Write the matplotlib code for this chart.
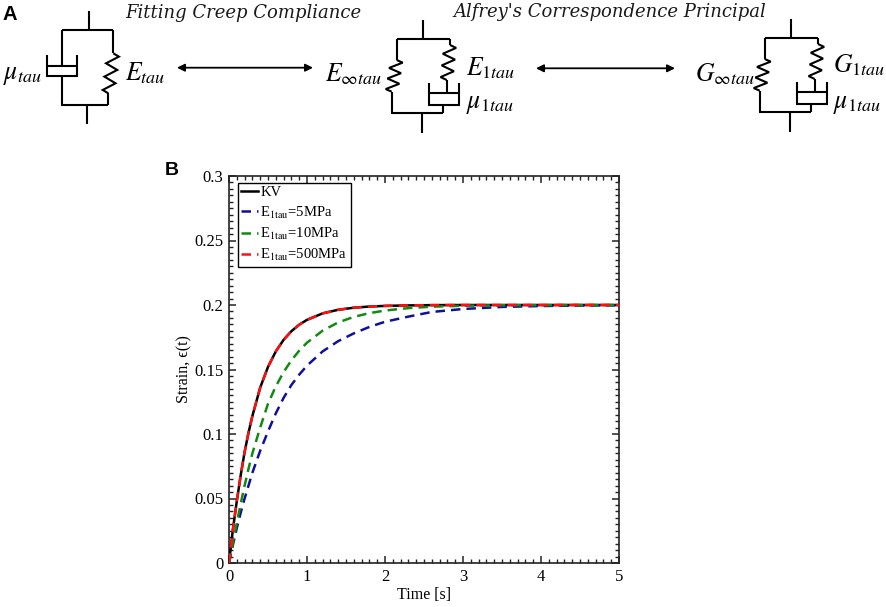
import matplotlib
matplotlib.use('Agg')
import matplotlib.pyplot as plt
from matplotlib.ticker import MultipleLocator, FixedLocator, FixedFormatter

plt.rcParams['font.family'] = ['Liberation Serif', 'DejaVu Serif']
plt.rcParams['mathtext.fontset'] = 'stix'

# ---------------- data ----------------
time_s = [0, 0.05, 0.1, 0.15, 0.2, 0.25, 0.3, 0.4, 0.5, 0.6, 0.7, 0.8, 0.9,
          1.0, 1.2, 1.4, 1.6, 1.8, 2.0, 2.3, 2.6, 3.0, 3.5, 4.0, 4.5, 5.0]
strain_kv = [0, 0.026, 0.048, 0.068, 0.086, 0.101, 0.114, 0.136, 0.152, 0.164,
             0.173, 0.1797, 0.1847, 0.1885, 0.1935, 0.1963, 0.1979, 0.1988,
             0.1993, 0.1997, 0.1999, 0.2, 0.2, 0.2, 0.2, 0.2]
strain_5mpa = [0, 0.014, 0.027, 0.039, 0.050, 0.060, 0.070, 0.087, 0.102, 0.116,
               0.128, 0.138, 0.146, 0.153, 0.164, 0.172, 0.178, 0.183, 0.187,
               0.191, 0.1946, 0.1969, 0.1985, 0.1992, 0.1996, 0.1998]
strain_10mpa = [0, 0.016, 0.031, 0.046, 0.060, 0.073, 0.085, 0.105, 0.1235,
                0.1369, 0.148, 0.1571, 0.1646, 0.1708, 0.1801, 0.1865, 0.1908,
                0.1937, 0.1957, 0.1976, 0.1987, 0.1994, 0.1998, 0.1999, 0.2, 0.2]
strain_500mpa = [0, 0.026, 0.048, 0.068, 0.086, 0.101, 0.114, 0.136, 0.152,
                 0.164, 0.173, 0.1797, 0.1847, 0.1885, 0.1935, 0.1963, 0.1979,
                 0.1988, 0.1993, 0.1997, 0.1999, 0.2, 0.2, 0.2, 0.2, 0.2]
series_labels = ['KV', r'E$_{\mathrm{1tau}}$=5MPa', r'E$_{\mathrm{1tau}}$=10MPa',
                 r'E$_{\mathrm{1tau}}$=500MPa']
x_ticks = [0, 1, 2, 3, 4, 5]
y_ticks = [0, 0.05, 0.1, 0.15, 0.2, 0.25, 0.3]
y_tick_labels = ['0', '0.05', '0.1', '0.15', '0.2', '0.25', '0.3']
x_label = 'Time [s]'
y_label = 'Strain, ϵ(t)'

W, H = 886, 607
fig = plt.figure(figsize=(W / 100, H / 100), dpi=100)

# ---------------- panel B: chart ----------------
ax = fig.add_axes([229 / W, 44 / H, 390 / W, 387 / H])
dash = (3.8, 2.4)
ax.plot(time_s, strain_kv, color='black', lw=1.8, label=series_labels[0], zorder=3)
ax.plot(time_s, strain_5mpa, color='#10109a', lw=1.8, dashes=dash,
        label=series_labels[1], zorder=3)
ax.plot(time_s, strain_10mpa, color='#118a11', lw=1.8, dashes=dash,
        label=series_labels[2], zorder=3)
ax.plot(time_s, strain_500mpa, color='#ff1010', lw=1.8, dashes=dash,
        label=series_labels[3], zorder=4)

ax.set_xlim(0, 5)
ax.set_ylim(0, 0.3)
ax.xaxis.set_major_locator(FixedLocator(x_ticks))
ax.yaxis.set_major_locator(FixedLocator(y_ticks))
ax.yaxis.set_major_formatter(FixedFormatter(y_tick_labels))
ax.xaxis.set_minor_locator(MultipleLocator(0.1))
ax.yaxis.set_minor_locator(MultipleLocator(0.005))
ax.tick_params(which='both', direction='in', top=True, right=True,
               labelsize=12, color='#222222')
ax.tick_params(which='major', length=5, width=1.1, pad=4)
ax.tick_params(which='minor', length=2.8, width=1.0)
for s in ax.spines.values():
    s.set_linewidth(1.2)
    s.set_color('#222222')
ax.set_xlabel(x_label, fontsize=11.5, labelpad=2)
ax.set_ylabel(y_label, fontsize=11.5, labelpad=1)

leg = ax.legend(loc='upper left', bbox_to_anchor=(0.022, 0.983), fontsize=10.5,
                handlelength=1.15, handletextpad=0.15, borderpad=0.25,
                labelspacing=0.35, borderaxespad=0.0, fancybox=False,
                framealpha=1, edgecolor='black')
leg.get_frame().set_linewidth(1.0)

# ---------------- panel A: schematics ----------------
ax0 = fig.add_axes([0, 0, 1, 1])
ax0.set_xlim(0, W)
ax0.set_ylim(H, 0)
ax0.axis('off')
ax0.patch.set_visible(False)

LW = 1.5


def line(pts, dx=0.0, dy=0.0):
    ax0.plot([p[0] + dx for p in pts], [p[1] + dy for p in pts], color='black',
             lw=LW, solid_capstyle='butt', solid_joinstyle='miter')


def spring(xt, yt, xb, yb, amp, n=6, dx=0.0, dy=0.0):
    pts = [(xt, yt)]
    for i in range(n):
        f = (i + 0.5) / n
        xc = xt + f * (xb - xt)
        pts.append((xc + (amp if i % 2 == 0 else -amp), yt + f * (yb - yt)))
    pts.append((xb, yb))
    line(pts, dx, dy)


def dashpot(xl, xr, ytop, ypis, ybot, dx=0.0, dy=0.0):
    line([(xl, ytop), (xl, ybot), (xr, ybot), (xr, ytop)], dx, dy)
    line([(xl, ypis), (xr, ypis)], dx, dy)


# Kelvin-Voigt model
line([(89.3, 11), (89.3, 30)])
line([(61.7, 30), (113.3, 30)])
line([(61.7, 30), (61.7, 65.7)])
dashpot(47.3, 76.7, 55, 65.7, 75.7)
line([(61.7, 75.7), (61.7, 105)])
line([(61.5, 105), (108.3, 105)])
line([(113.3, 30), (113.3, 53.3)])
spring(113.3, 53.3, 108.3, 93.3, 6.0)
line([(108.3, 93.3), (108.3, 105)])
line([(86.7, 105), (86.7, 124.3)])


def sls(dx, dy):
    line([(423.3, 20), (423.3, 39)], dx, dy)
    line([(396.7, 39), (450, 39)], dx, dy)
    line([(396.7, 39), (396.7, 60)], dx, dy)
    spring(396.7, 60, 391.7, 91.7, 6.4, dx=dx, dy=dy)
    line([(391.7, 91.7), (391.7, 113.3)], dx, dy)
    line([(391.5, 113.3), (443.3, 113.3)], dx, dy)
    line([(450, 39), (450, 45)], dx, dy)
    spring(450, 45, 446.7, 80, 6.4, dx=dx, dy=dy)
    line([(446.7, 80), (446.7, 93.3)], dx, dy)
    dashpot(429.3, 459.3, 83.3, 93.3, 105, dx, dy)
    line([(443.3, 105), (443.3, 113.3)], dx, dy)
    line([(421.7, 113.3), (421.7, 133.3)], dx, dy)


sls(0, 0)
sls(368, -1)

arrow_kw = dict(arrowstyle='<|-|>', lw=1.3, color='black', mutation_scale=11,
                shrinkA=0, shrinkB=0)
ax0.annotate('', xy=(313, 67.7), xytext=(177, 67.7), arrowprops=arrow_kw)
ax0.annotate('', xy=(675, 68.3), xytext=(536, 68.3), arrowprops=arrow_kw)

MS = 18.5
ax0.text(3, 79, r'$\mu_{tau}$', fontsize=MS, ha='left', va='baseline')
ax0.text(125, 80, r'$E_{tau}$', fontsize=MS, ha='left', va='baseline')
ax0.text(325, 81, r'$E_{\infty tau}$', fontsize=MS, ha='left', va='baseline')
ax0.text(466, 75, r'$E_{1tau}$', fontsize=MS, ha='left', va='baseline')
ax0.text(466, 108, r'$\mu_{1tau}$', fontsize=MS, ha='left', va='baseline')
ax0.text(695, 81, r'$G_{\infty tau}$', fontsize=MS, ha='left', va='baseline')
ax0.text(833, 72, r'$G_{1tau}$', fontsize=MS, ha='left', va='baseline')
ax0.text(833, 108, r'$\mu_{1tau}$', fontsize=MS, ha='left', va='baseline')

ax0.text(125, 18, 'Fitting Creep Compliance', fontsize=13, style='italic',
         family='DejaVu Serif', ha='left', va='baseline', color='#1a1a1a')
ax0.text(453, 17, "Alfrey's Correspondence Principal", fontsize=13,
         style='italic', family='DejaVu Serif', ha='left', va='baseline',
         color='#1a1a1a')

ax0.text(3, 20, 'A', fontsize=14.5, fontweight='bold', family='Liberation Sans',
         ha='left', va='baseline')
ax0.text(165, 175, 'B', fontsize=14, fontweight='bold', family='Liberation Sans',
         ha='left', va='baseline')

fig.savefig('out.png', dpi=100)
